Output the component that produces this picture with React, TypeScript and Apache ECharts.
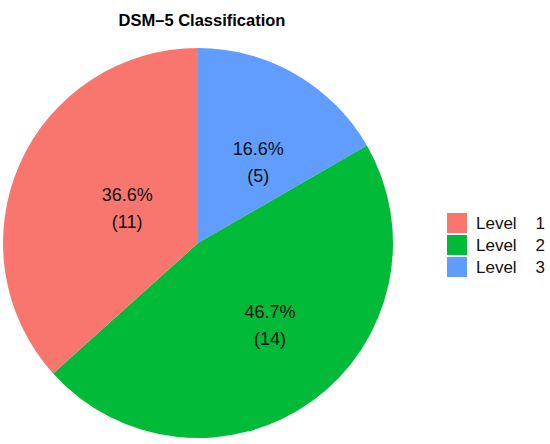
import React, { useEffect, useRef } from "react";
import * as echarts from "echarts";

const categories = ["Level 3", "Level 2", "Level 1"];
const counts = [5, 14, 11];
const percentLabels = ["16.6%", "46.7%", "36.6%"];
const colors = ["#619CFF", "#00BA38", "#F8766D"];
const legendOrder = ["Level 1", "Level 2", "Level 3"];
const labelShift = [
  [10, 7],
  [13, 1.5],
  [21, 6],
];

export default function App() {
  const ref = useRef<HTMLDivElement>(null);
  useEffect(() => {
    const chart = echarts.init(ref.current!, null, { renderer: "svg" });
    chart.setOption({
      animation: false,
      title: {
        text: "DSM\u20135 Classification",
        left: 197,
        textAlign: "center",
        top: 6,
        textStyle: { fontFamily: "Liberation Sans, Arial, sans-serif", fontWeight: "bold", fontSize: 16.5, color: "#000" },
      },
      legend: {
        data: legendOrder,
        orient: "vertical",
        left: 442,
        top: 208,
        itemWidth: 20,
        itemHeight: 20,
        itemGap: 2,
        icon: "rect",
        formatter: (n: string) => n.replace(" ", "    "),
        textStyle: { fontFamily: "Liberation Sans, Arial, sans-serif", fontSize: 17, color: "#111", padding: [0, 0, 0, 4] },
      },
      series: [
        {
          type: "pie",
          center: [198, 243],
          radius: [0, 195],
          startAngle: 90,
          clockwise: true,
          label: {
            show: true,
            position: "inside",
            fontFamily: "Liberation Sans, Arial, sans-serif",
            fontSize: 18,
            color: "#111",
            lineHeight: 27,
            formatter: (p: any) => `${percentLabels[p.dataIndex]}\n(${counts[p.dataIndex]})`,
          },
          labelLayout: (p: any) => ({ dx: labelShift[p.dataIndex][0], dy: labelShift[p.dataIndex][1] }),
          itemStyle: { borderWidth: 0 },
          emphasis: { disabled: true },
          data: categories.map((c, i) => ({ name: c, value: counts[i], itemStyle: { color: colors[i] } })),
        },
      ],
    });
    return () => chart.dispose();
  }, []);
  return <div ref={ref} style={{ width: 550, height: 444, position: "absolute", left: 0, top: 0 }} />;
}
